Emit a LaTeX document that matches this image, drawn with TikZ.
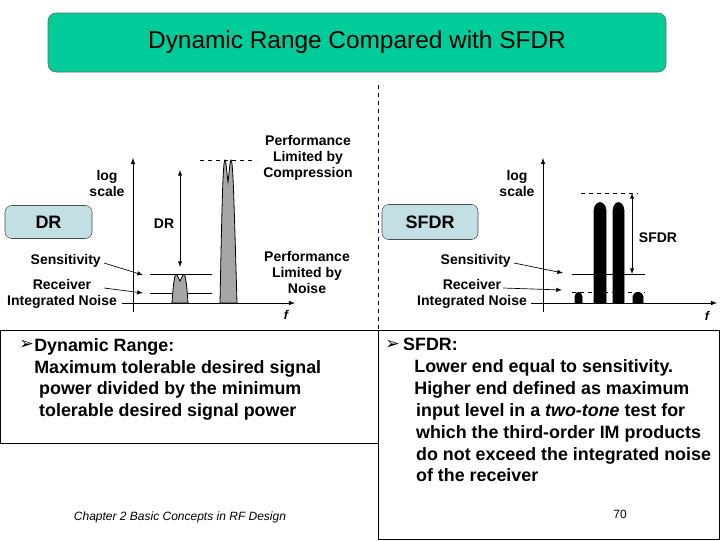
\documentclass[tikz,border=0pt]{standalone}
\usepackage{fontspec}
\setmainfont{Liberation Sans}
\newfontfamily\dvs{DejaVu Sans}
\definecolor{titlec}{HTML}{00CC99}
\definecolor{tagc}{HTML}{C2E0E4}
\begin{document}
\begin{tikzpicture}[x=0.75pt,y=-0.75pt,
  lbl/.style={font=\fontsize{10.5}{12}\selectfont\bfseries,align=center,inner sep=0pt},
  body/.style={font=\fontsize{13.4}{16.4}\selectfont\bfseries,align=left,anchor=north west,inner sep=0pt},
  tag/.style={draw=black!70,rounded corners=5pt,fill=tagc,font=\fontsize{13.5}{15}\selectfont\bfseries},
  peak/.style={draw=black,fill=gray!70,line width=0.6pt},
  blk/.style={draw=black,fill=black},
  ax/.style={-latex,line width=0.6pt},
  thin/.style={line width=0.5pt}]
\useasboundingbox (0,0) rectangle (720,540);
% title
\node[draw=black!60,rounded corners=6pt,fill=titlec,minimum width=618*0.75pt,minimum height=59*0.75pt,font=\fontsize{18.3}{20}\selectfont] (title) at (357,42.5) {Dynamic Range Compared with SFDR};
\draw[dashed,thin] (378,85) coordinate(dt) -- (378,330) coordinate(db);
% boxes
\draw[thin] (0,330) rectangle (378,443);
\draw[thin] (378,330) rectangle (719.5,539.5);
\node[tag,minimum width=87*0.75pt,minimum height=33*0.75pt] (dr) at (48.5,222) {DR};
\node[tag,minimum width=96*0.75pt,minimum height=35*0.75pt] (sfdr) at (430,222) {SFDR};
% ---------------- left plot
\coordinate (lo) at (133,303);
\draw[ax] (133,312) -- (133,158) coordinate (ly);
\draw[ax] (125,303) -- (295,303) coordinate (lx);
\node[lbl,font=\fontsize{9.5}{10}\selectfont\bfseries\itshape] (lf) at (286,315) {f};
\node[lbl] (ls) at (107,183) {log\\scale};
\draw[thin] (150,274) -- (212,274);
\draw[thin] (150,293) -- (212,293);
\draw[peak] (172,303) .. controls (174,272) and (176,273) .. (177,275) -- (180,281) -- (183,275) .. controls (184,273) and (186,272) .. (188,303) -- cycle;
\draw[peak] (220,303) .. controls (222,200) and (223,160) .. (225,160) .. controls (226,160) and (227,175) .. (228,182) .. controls (229,175) and (230,160) .. (231,160) .. controls (233,160) and (234,200) .. (237,303) -- cycle;
\draw[dashed,thin] (200,160) -- (256,160);
\draw[latex-latex,thin] (180,170) -- (180,267);
\node[lbl] (ldr) at (164,224) {DR};
\node[lbl,anchor=east] (lsen) at (101,261) {Sensitivity};
\draw[-latex,thin] (104,263) -- (143,275);
\node[lbl] (lrec) at (62,294) {Receiver\\Integrated Noise};
\draw[-latex,thin] (104,288) -- (143,293);
\draw[thin] (122,303) -- (lo);
\node[lbl] (lpc) at (308,158) {Performance\\Limited by\\Compression};
\node[lbl] (lpn) at (307,272) {Performance\\Limited by\\Noise};
% ---------------- right plot
\coordinate (ro) at (543,303);
\draw[ax] (543,312) -- (543,158) coordinate (ry);
\draw[ax] (535,303) -- (717,303) coordinate (rx);
\node[lbl,font=\fontsize{9.5}{10}\selectfont\bfseries\itshape] (rf) at (707,316) {f};
\node[lbl] (rs) at (517,183) {log\\scale};
\draw[dashed,thin] (581,193) -- (638,193);
\draw[thin] (572,274) -- (645,274);
\draw[dashed,thin] (572,292) -- (645,292);
\draw[blk] (594,303) -- (594,210) .. controls (595,200) and (605,200) .. (606,210) -- (606,303) -- cycle;
\draw[blk] (613,303) -- (613,210) .. controls (614,200) and (623,200) .. (624,210) -- (624,303) -- cycle;
\draw[blk] (575,303) -- (575,296) .. controls (576,291) and (581,291) .. (582,296) -- (582,303) -- cycle;
\draw[blk] (633,303) -- (633,296) .. controls (634,291) and (642,291) .. (643,296) -- (643,303) -- cycle;
\draw[latex-latex,thin] (632,193) -- (632,274);
\node[lbl] (rsf) at (658,238) {SFDR};
\node[lbl,anchor=east] (rsen) at (511,261) {Sensitivity};
\draw[-latex,thin] (514,263) -- (563,273);
\node[lbl] (rrec) at (472,294) {Receiver\\Integrated Noise};
\draw[-latex,thin] (503,288) -- (562,290);
\draw[thin] (531,303) -- (ro);
% ---------------- texts
\node[anchor=west,inner sep=0pt,font=\dvs\fontsize{13}{14}\selectfont] (b1) at (19,345) {➢};
\node[body] (t1) at (34,338) {Dynamic Range:\\ Maximum tolerable desired signal\\ \ power divided by the minimum\\ \ tolerable desired signal power};
\node[anchor=west,inner sep=0pt,font=\dvs\fontsize{13}{14}\selectfont] (b2) at (385,345) {➢};
\node[body] (t2) at (398,338) {\ SFDR:\\ \hspace{0.9em}Lower end equal to sensitivity.\\ \hspace{0.9em}Higher end defined as maximum\\ \hspace{1em}input level in a \textit{two-tone} test for\\ \hspace{1em}which the third-order IM products\\ \hspace{1em}do not exceed the integrated noise\\ \hspace{1em}of the receiver};
\node[font=\fontsize{9}{10}\selectfont\itshape,inner sep=0pt] (foot) at (180,517) {Chapter 2 Basic Concepts in RF Design};
\node[font=\fontsize{9}{10}\selectfont,inner sep=0pt] (pg) at (620,514) {70};
\end{tikzpicture}
\end{document}
